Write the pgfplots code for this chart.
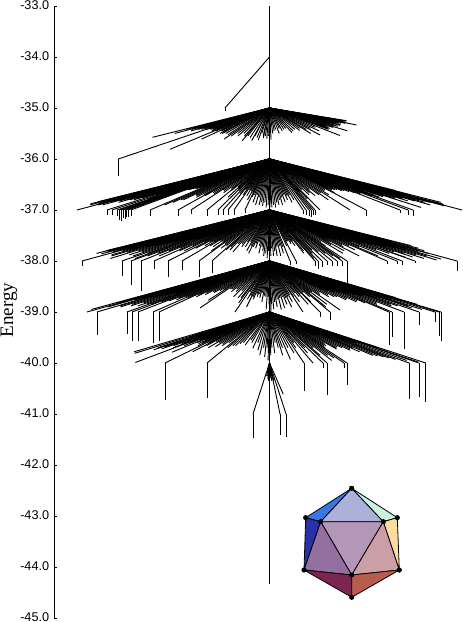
\documentclass[border=0pt]{standalone}
\usepackage{pgfplots}
\usepackage{pgfplotstable}
\usepackage{fontspec}
\setmainfont{Liberation Sans}
\newfontfamily\timesfont{Liberation Serif}
\pgfplotsset{compat=1.18}
% Each row: X = x position of the branch node at the next lower level,
% d = energy drop from the parent node down to the minimum (d>1 leaves a vertical stem).
\pgfplotstableread[row sep=\\]{X d\\ 225 1.06\\}\fanA
\pgfplotstableread[row sep=\\]{X d\\
66 .575\\ 72 .42\\ 76 .4\\ 80 .5\\ 84 .42\\ 88 .4\\ 92 .4\\ 95 .45\\ 99 .42\\ 102 .38\\ 105 .4\\ 108 .42\\ 111 .4\\ 114 .38\\ 117 .4\\ 118.3 1.33\\ 120 .42\\ 123 .4\\ 126 .36\\ 129 .42\\ 132 .4\\ 135 .42\\ 138 .4\\ 141 .45\\ 144 .42\\ 146.7 .81\\ 150 .45\\ 156 .42\\ 158 .61\\ 162 .45\\ 168 .46\\ 170.5 .5\\ 175 .5\\ 182 .5\\ 190 .52\\ 195 .61\\ 200 .55\\ 206 .5\\ 212 .55\\ 218 .5\\ 224 .55\\ 227 .64\\ 230 .55\\ 236 .58\\ 241.7 .64\\ 243 .55\\ 248 .58\\ 251.7 .63\\ 254 .5\\ 258 .55\\ 259 .59\\ 262 .55\\ 265 .6\\ 268 .55\\
578 .25\\ 570 .25\\ 560 .25\\ 552 .26\\ 545 .28\\ 538 .28\\ 531 .333\\ 522 .3\\ 515 .28\\ 507 .3\\ 500 .3\\ 492 .3\\ 485 .33\\ 477 .34\\ 470 .3\\ 465 .33\\ 460 .36\\ 452 .35\\ 444 .445\\ 437 .38\\ 430 .35\\ 425 .38\\ 420 .4\\ 415 .4\\ 410 .42\\ 400 .54\\ 390 .38\\ 380 .45\\ 372 .4\\ 365 .53\\ 357 .42\\ 352 .5\\ 345 .4\\ 338 .44\\ 330 .42\\ 322 .45\\ 316 .48\\ 310 .4\\ 304 .42\\ 298 .45\\ 294 .4\\ 289 .5\\ 284 .42\\ 280 .45\\ 276 .5\\ 272 .62\\ 270 .5\\
}\fanB
\pgfplotstableread[row sep=\\]{X d\\
65 .84\\ 66 .88\\ 68 .78\\ 69 .8\\ 70 .9\\ 71 .85\\ 72 .72\\ 73 .82\\ 75 .88\\ 77 1\\ 78 .8\\ 79 .9\\ 80 .82\\ 82 .78\\ 83 .85\\ 84 .9\\ 86 .76\\ 87 .82\\ 88 .7\\ 90 .74\\ 91 .8\\ 92 .85\\ 94 .72\\ 95 .8\\ 96 .75\\ 98 .7\\ 99 .78\\ 100 .8\\ 102 .7\\ 103 .76\\ 104 .72\\ 106 .68\\ 107 1.1\\ 108 .7\\ 110 .68\\ 112 1.1\\ 113 .66\\ 114 .78\\ 116 .62\\ 117 1.12\\ 118 .64\\ 119 1.2\\ 120 .6\\ 121 1.22\\ 122 .64\\ 123 1.15\\ 124 .58\\ 125 1.18\\ 126 1.14\\ 127 .6\\ 128 1.13\\ 129 .62\\ 130 .6\\ 131 1.12\\ 132 .55\\ 134 .6\\ 136 .6\\ 138 .58\\ 140 .55\\ 142 .58\\ 144 .58\\ 146 .56\\ 148 .55\\ 150 1.12\\ 153 .9\\ 156 .85\\ 159 .8\\ 162 .8\\ 165 .7\\ 168 .72\\ 172 .75\\ 176 .7\\ 178 1.12\\ 180 .72\\ 184 .66\\ 188 .68\\ 191 1.08\\ 192 .6\\ 196 .62\\ 200 .66\\ 204 .58\\ 207 1.12\\ 208 .62\\ 212 .55\\ 214 .75\\ 216 .58\\ 218 1.1\\ 220 .62\\ 223 1.1\\ 224 .55\\ 226 .68\\ 228 1.1\\ 230 .6\\ 232 .7\\ 234 1.09\\ 236 .6\\ 238 .72\\ 240 .62\\ 242 .8\\ 244 .66\\ 245 1.05\\ 246 .74\\ 248 .7\\ 250 .85\\ 252 .7\\ 254 .9\\ 256 .75\\ 258 .9\\ 260 .85\\ 262 .92\\ 264 .85\\ 266 .95\\ 268 .9\\
270 .95\\ 271 .85\\ 272 .95\\ 274 .9\\ 276 .95\\ 278 .85\\ 280 .9\\ 282 .8\\ 284 .9\\ 286 .75\\ 288 .85\\ 290 .7\\ 292 .8\\ 294 .72\\ 296 .85\\ 298 .7\\ 300 .8\\ 303 1.08\\ 306 1.1\\ 309 1.12\\ 311 1.14\\ 313 1.1\\ 315 1.1\\ 316 .65\\ 318 .78\\ 320 1\\ 323 .6\\ 326 .7\\ 330 .66\\ 333 .72\\ 336 .6\\ 340 .7\\ 343 .8\\ 347 .66\\ 350 1\\ 354 .7\\ 358 .62\\ 362 .6\\ 366 1.12\\ 368 .66\\ 370 .58\\ 372 .6\\ 374 .6\\ 376 .55\\ 378 .6\\ 380 .58\\ 382 .6\\ 384 .55\\ 386 .62\\ 388 .6\\ 390 .62\\ 392 .55\\ 394 .64\\ 396 .6\\ 398 .66\\ 400 1.06\\ 403 .68\\ 404 .55\\ 407 .66\\ 408 1.1\\ 410 .62\\ 411 .72\\ 413 1.12\\ 414 .68\\ 416 .75\\ 418 .7\\ 420 .62\\ 423 .74\\ 425 .7\\ 427 .72\\ 429 .95\\ 430 .78\\ 432 .72\\ 434 .76\\ 436 .66\\ 438 .82\\ 440 .78\\ 443 .76\\ 445 .7\\ 446 .82\\ 448 .9\\ 450 .8\\ 452 .85\\ 454 .72\\ 456 .8\\ 458 .85\\ 460 .92\\ 462 1\\ 463 .9\\ 464 .74\\ 466 .88\\ 468 .7\\ 471 .85\\ 473 .62\\
}\fanC
\pgfplotstableread[row sep=\\]{X d\\
65 .8\\ 66 .85\\ 69 .8\\ 70 .72\\ 72 .82\\ 74 .86\\ 75 .75\\ 77 .78\\ 79 .82\\ 80 .7\\ 82 1.1\\ 83 .76\\ 85 .68\\ 86 .8\\ 88 .76\\ 90 .88\\ 91 .72\\ 92 .6\\ 93 .78\\ 94 .9\\ 95 .72\\ 96 .62\\ 97 .7\\ 98 .83\\ 99 .68\\ 100 .58\\ 101 .72\\ 102 .95\\ 103 .68\\ 104 .6\\ 105 .66\\ 106 .8\\ 107 .7\\ 108 .58\\ 109 .64\\ 110 .88\\ 111 .66\\ 112 .6\\ 113 .62\\ 114 .82\\ 115 .64\\ 116 .56\\ 117 .62\\ 118 .9\\ 119 .62\\ 120 .6\\ 121 .6\\ 122 1.29\\ 123 .6\\ 124 .56\\ 126 .85\\ 127 .6\\ 128 .95\\ 130 .58\\ 131 1.47\\ 132 .55\\ 133 .58\\ 134 .9\\ 135 .58\\ 136 .55\\ 137 .56\\ 138 .85\\ 139 .56\\ 140 .52\\ 141 1.58\\ 142 .56\\ 144 .8\\ 146 .54\\ 147 .9\\ 148 .52\\ 150 .75\\ 152 .52\\ 154 1.16\\ 156 .5\\ 157 .8\\ 159 .52\\ 160 .7\\ 162 .5\\ 163 .8\\ 165 .62\\ 166 .52\\ 168 1.31\\ 170 .5\\ 171 .75\\ 174 .62\\ 177 .7\\ 180 .62\\ 182 1.18\\ 185 .7\\ 188 .6\\ 191 .72\\ 194 .62\\ 197 .8\\ 199 1.31\\ 202 .66\\ 205 .75\\ 208 .7\\ 212 1.23\\ 214 .78\\ 216 .72\\ 219 .78\\ 222 .66\\ 225 .82\\ 228 .66\\ 231 .72\\ 234 .62\\ 236 .72\\ 239 .62\\ 241 .8\\ 243 .7\\ 245 .85\\ 247 .72\\ 249 .66\\ 251 .75\\ 253 .62\\ 255 .7\\ 257 .85\\ 259 .72\\ 261 .8\\ 263 .9\\ 265 .85\\ 267 .95\\ 268 .8\\
270 .7\\ 271 .9\\ 272 .75\\ 274 .9\\ 276 .8\\ 278 .9\\ 280 .72\\ 282 .9\\ 284 .7\\ 286 .85\\ 288 .72\\ 290 1.08\\ 294 .7\\ 296 1.06\\ 298 .62\\ 300 .6\\ 302 .66\\ 304 .62\\ 306 .7\\ 308 .6\\ 310 .85\\ 312 .8\\ 315 1.1\\ 316 .95\\ 318 1.15\\ 320 .85\\ 322 1.12\\ 324 .78\\ 327 1.08\\ 329 .82\\ 332 1.1\\ 335 .85\\ 337 1.1\\ 340 .9\\ 342 1.1\\ 344 .95\\ 347 1.43\\ 349 .7\\ 352 .62\\ 356 .85\\ 360 .68\\ 363 .8\\ 365 .5\\ 366 .62\\ 368 .56\\ 369 .9\\ 370 .52\\ 372 .72\\ 373 .56\\ 375 .52\\ 376 .68\\ 378 .58\\ 379 .78\\ 380 .55\\ 382 .58\\ 383 .7\\ 385 .52\\ 387 1.05\\ 388 .6\\ 390 .9\\ 393 .6\\ 394 .72\\ 395 .55\\ 397 1.06\\ 399 .62\\ 400 .55\\ 402 1.08\\ 404 .62\\ 405 .55\\ 406 .78\\ 409 .66\\ 410 .85\\ 412 .55\\ 414 .66\\ 415 1.03\\ 416 .93\\ 419 .68\\ 420 .55\\ 421 .82\\ 424 .7\\ 425 .92\\ 427 .68\\ 428 .85\\ 430 .6\\ 431 .72\\ 432 .95\\ 434 .7\\ 435 .58\\ 436 .88\\ 438 .75\\ 440 .98\\ 441 .7\\ 443 .78\\ 444 .9\\ 445 .62\\ 447 .72\\ 448 .96\\ 450 .6\\ 451 .82\\ 453 .75\\ 455 .65\\ 456 .85\\ 457 1.19\\ 459 .78\\ 460 .6\\ 463 .8\\ 465 .62\\ 468 .75\\ 470 .55\\ 472 .7\\
}\fanD
\pgfplotstableread[row sep=\\]{X d\\
82 .95\\ 84 .82\\ 85 .7\\ 86 .76\\ 87 1\\ 88 .78\\ 90 .9\\ 91 .74\\ 92 .68\\ 93 .76\\ 95 .72\\ 96 .66\\ 97 1.45\\ 98 .7\\ 99 .74\\ 100 .88\\ 101 .7\\ 102 .65\\ 103 .68\\ 104 .9\\ 105 .7\\ 106 .6\\ 107 .66\\ 108 .85\\ 109 .68\\ 110 .62\\ 111 .64\\ 112 .88\\ 113 .66\\ 114 .58\\ 115 .62\\ 116 .82\\ 117 .64\\ 118 .6\\ 119 .62\\ 120 .88\\ 121 .62\\ 122 .58\\ 123 .6\\ 124 .84\\ 125 .6\\ 126 .55\\ 127 1.43\\ 128 .58\\ 129 .56\\ 130 .85\\ 131 .58\\ 132 1.56\\ 133 .55\\ 134 .56\\ 135 .8\\ 136 .56\\ 137 .52\\ 138 1.56\\ 140 .54\\ 141 .78\\ 143 .54\\ 144 .72\\ 146 .52\\ 147 .76\\ 150 .7\\ 153 1.6\\ 156 .72\\ 159 1.56\\ 162 .66\\ 165 .7\\ 168 .62\\ 172 .66\\ 176 .6\\ 180 .62\\ 184 .58\\ 188 .56\\ 190 .77\\ 194 .92\\ 198 .55\\ 202 .55\\ 206 .6\\ 210 .55\\ 214 .6\\ 218 .7\\ 222 .58\\ 226 .72\\ 230 .72\\ 232 .82\\ 235 1\\ 237 .6\\ 240 .75\\ 242 .68\\ 244 .9\\ 246 .7\\ 248 .75\\ 250 .65\\ 252 .7\\ 254 .65\\ 256 .72\\ 258 .62\\ 260 .8\\ 262 .68\\ 264 .7\\ 266 .95\\ 268 .7\\ 269 .85\\
270 .8\\ 271 1\\ 272 .85\\ 274 .95\\ 276 .8\\ 278 .9\\ 280 .75\\ 282 .95\\ 284 .72\\ 286 .92\\ 288 .7\\ 290 .85\\ 292 .72\\ 294 .9\\ 296 .7\\ 298 .8\\ 300 .66\\ 303 1\\ 304 .7\\ 307 .8\\ 310 .62\\ 312 .7\\ 315 .85\\ 317 .65\\ 320 1.1\\ 321 .8\\ 324 .62\\ 327 .7\\ 330 1.15\\ 332 .9\\ 335 .62\\ 337 .85\\ 340 .6\\ 343 .96\\ 346 .66\\ 350 .62\\ 354 .7\\ 358 .66\\ 360 .5\\ 362 .7\\ 363 .56\\ 365 .55\\ 366 .7\\ 367 .58\\ 370 .76\\ 372 .6\\ 374 .74\\ 375 .55\\ 377 .6\\ 378 .8\\ 380 .56\\ 382 .78\\ 383 .62\\ 385 .58\\ 386 .82\\ 388 .64\\ 389 1.65\\ 390 .58\\ 392 1.5\\ 393 .64\\ 395 .6\\ 396 .85\\ 398 .66\\ 400 .82\\ 402 .6\\ 403 .68\\ 404 1.72\\ 405 .62\\ 407 .68\\ 408 .88\\ 410 .62\\ 412 .85\\ 413 .7\\ 415 .88\\ 417 .66\\ 418 .72\\ 419 1.25\\ 420 .62\\ 423 .72\\ 424 .92\\ 425 .68\\ 427 .88\\ 428 .76\\ 430 .95\\ 431 .66\\ 433 .74\\ 435 1.2\\ 436 .7\\ 438 .78\\ 439 1.47\\ 440 .68\\ 441 1.57\\ 442 .75\\ 443 .85\\ 445 .72\\
}\fanE
\pgfplotstableread[row sep=\\]{X d\\
96 .78\\ 103 .81\\ 105 .45\\ 108 .5\\ 110 .7\\ 112 .45\\ 113 .74\\ 115 .5\\ 116 .68\\ 118 .45\\ 120 .72\\ 122 .5\\ 124 .66\\ 125 .45\\ 127 .5\\ 128 .62\\ 130 .45\\ 132 .7\\ 133 .48\\ 134 .99\\ 136 .42\\ 137 .6\\ 139 .46\\ 140 .66\\ 143 .55\\ 145 .44\\ 146 .79\\ 149 .6\\ 150 .42\\ 152 .55\\ 155 .62\\ 158 .6\\ 161 .66\\ 165 1.73\\ 168 .6\\ 171 .78\\ 174 .66\\ 178 .58\\ 182 .7\\ 186 .6\\ 190 .68\\ 194 .62\\ 198 .66\\ 202 .6\\ 207 1.69\\ 210 .7\\ 214 .66\\ 218 .66\\ 222 .62\\ 226 .6\\ 232 .65\\ 236 .55\\ 240 .6\\ 246 .71\\ 250 .6\\ 254 .75\\ 258 .85\\ 261 .7\\ 264 .88\\ 266 .7\\ 268 .95\\
271 .85\\ 273 .7\\ 276 .8\\ 279 .6\\ 282 .7\\ 285 .85\\ 288 .7\\ 292 .93\\ 296 .7\\ 300 .8\\ 304 1.55\\ 307 .7\\ 310 .6\\ 313 1\\ 317 .8\\ 320 .7\\ 323 1.09\\ 327 1.63\\ 329 .85\\ 332 .7\\ 335 .95\\ 338 .85\\ 341 .9\\ 344 1.1\\ 347 1.44\\ 349 .7\\ 352 .66\\ 355 .66\\ 358 .62\\ 362 .725\\ 364 .42\\ 365 .7\\ 367 .42\\ 369 .68\\ 370 .45\\ 373 .7\\ 376 .45\\ 377 .75\\ 379 .46\\ 381 .72\\ 382 .45\\ 385 .78\\ 388 .7\\ 391 .85\\ 394 .5\\ 395 .86\\ 397 .5\\ 399 .88\\ 400 .5\\ 402 .9\\ 403 .52\\ 405 .93\\ 406 .55\\ 409 1.71\\ 412 .6\\ 414 .95\\ 415 .55\\ 418 .6\\ 419 1.67\\ 421 .98\\ 424 .7\\ 425.7 1.77\\
}\fanF
\pgfplotstableread[row sep=\\]{X d\\
253 1.47\\ 258 .25\\ 262 .25\\ 264 .3\\ 266 .35\\ 268 .3\\ 272 .2\\ 274 .3\\ 276 .35\\ 278 .25\\ 280 1.41\\ 282 .35\\ 286 1.45\\ 292 .61\\
}\fanG
\newcommand{\drawfan}[2]{%
  \addplot[black,line width=0.68pt,quiver={u={(\thisrow{X}-269.5)*min(\thisrow{d},1)},v={-min(\thisrow{d},1)}}]
    table[x expr=269.5,y expr=#2] {#1};
  \addplot[black,line width=0.62pt,quiver={u=0,v={-max(\thisrow{d}-1,0)}}]
    table[x=X,y expr=#2-1] {#1};
}
\begin{document}
\begin{tikzpicture}[x=1pt,y=1pt]
\path[use as bounding box] (0,0) rectangle (346.5,466.5);
\begin{axis}[
  at={(40.875pt,3pt)},anchor=south west,
  scale only axis,width=305.625pt,height=459pt,
  xmin=54.5,xmax=462,ymin=-45,ymax=-33,
  axis y line*=left,axis x line=none,
  axis line style={-,black,line width=0.75pt},
  xtick=\empty,
  ytick={-45,-44,-43,-42,-41,-40,-39,-38,-37,-36,-35,-34,-33},
  yticklabels={-45.0,-44.0,-43.0,-42.0,-41.0,-40.0,-39.0,-38.0,-37.0,-36.0,-35.0,-34.0,-33.0},
  tick align=inside,major tick length=2.2pt,
  tick style={black,line width=0.6pt},
  yticklabel style={font=\fontsize{9.5}{10.5}\selectfont,text=black,xshift=-0.5pt,yshift=1pt,inner ysep=0pt},
  ylabel={\timesfont\fontsize{14.3}{16}\selectfont Energy},
  every axis y label/.style={at={(axis description cs:-0.112,0.503)},rotate=90,anchor=center},
  clip=false,
]
% main trunk
\addplot[black,line width=0.75pt] coordinates {(269.5,-33) (269.5,-44.33)};
\drawfan{\fanA}{-34}
\drawfan{\fanB}{-35}
\drawfan{\fanC}{-36}
\drawfan{\fanD}{-37}
\drawfan{\fanE}{-38}
\drawfan{\fanF}{-39}
\drawfan{\fanG}{-40}
% icosahedron inset
\addplot[fill={rgb,255:red,53;green,120;blue,229},draw=black,line width=0.6pt] coordinates {(351.7,-42.457)(305.7,-43.033)(320.7,-43.112)} --cycle;
\addplot[fill={rgb,255:red,200;green,245;blue,224},draw=black,line width=0.6pt] coordinates {(351.7,-42.457)(397.3,-43.033)(383.3,-43.112)} --cycle;
\addplot[fill={rgb,255:red,173;green,176;blue,216},draw=black,line width=0.6pt] coordinates {(351.7,-42.457)(320.7,-43.112)(383.3,-43.112)} --cycle;
\addplot[fill={rgb,255:red,42;green,48;blue,168},draw=black,line width=0.6pt] coordinates {(305.7,-43.033)(320.7,-43.112)(304,-44.059)} --cycle;
\addplot[fill={rgb,255:red,251;green,220;blue,158},draw=black,line width=0.6pt] coordinates {(397.3,-43.033)(383.3,-43.112)(399.3,-44.059)} --cycle;
\addplot[fill={rgb,255:red,180;green,150;blue,184},draw=black,line width=0.6pt] coordinates {(320.7,-43.112)(383.3,-43.112)(351.7,-44.157)} --cycle;
\addplot[fill={rgb,255:red,148;green,112;blue,160},draw=black,line width=0.6pt] coordinates {(320.7,-43.112)(304,-44.059)(351.7,-44.157)} --cycle;
\addplot[fill={rgb,255:red,204;green,158;blue,165},draw=black,line width=0.6pt] coordinates {(383.3,-43.112)(399.3,-44.059)(351.7,-44.157)} --cycle;
\addplot[fill={rgb,255:red,124;green,37;blue,80},draw=black,line width=0.6pt] coordinates {(304,-44.059)(351.7,-44.157)(351.7,-44.594)} --cycle;
\addplot[fill={rgb,255:red,184;green,92;blue,80},draw=black,line width=0.6pt] coordinates {(399.3,-44.059)(351.7,-44.157)(351.7,-44.594)} --cycle;
\addplot[only marks,mark=*,mark size=1.7pt,black] coordinates {(351.7,-42.457)(305.7,-43.033)(397.3,-43.033)(320.7,-43.112)(383.3,-43.112)(304,-44.059)(399.3,-44.059)(351.7,-44.157)(351.7,-44.594)};
\end{axis}
\end{tikzpicture}
\end{document}
